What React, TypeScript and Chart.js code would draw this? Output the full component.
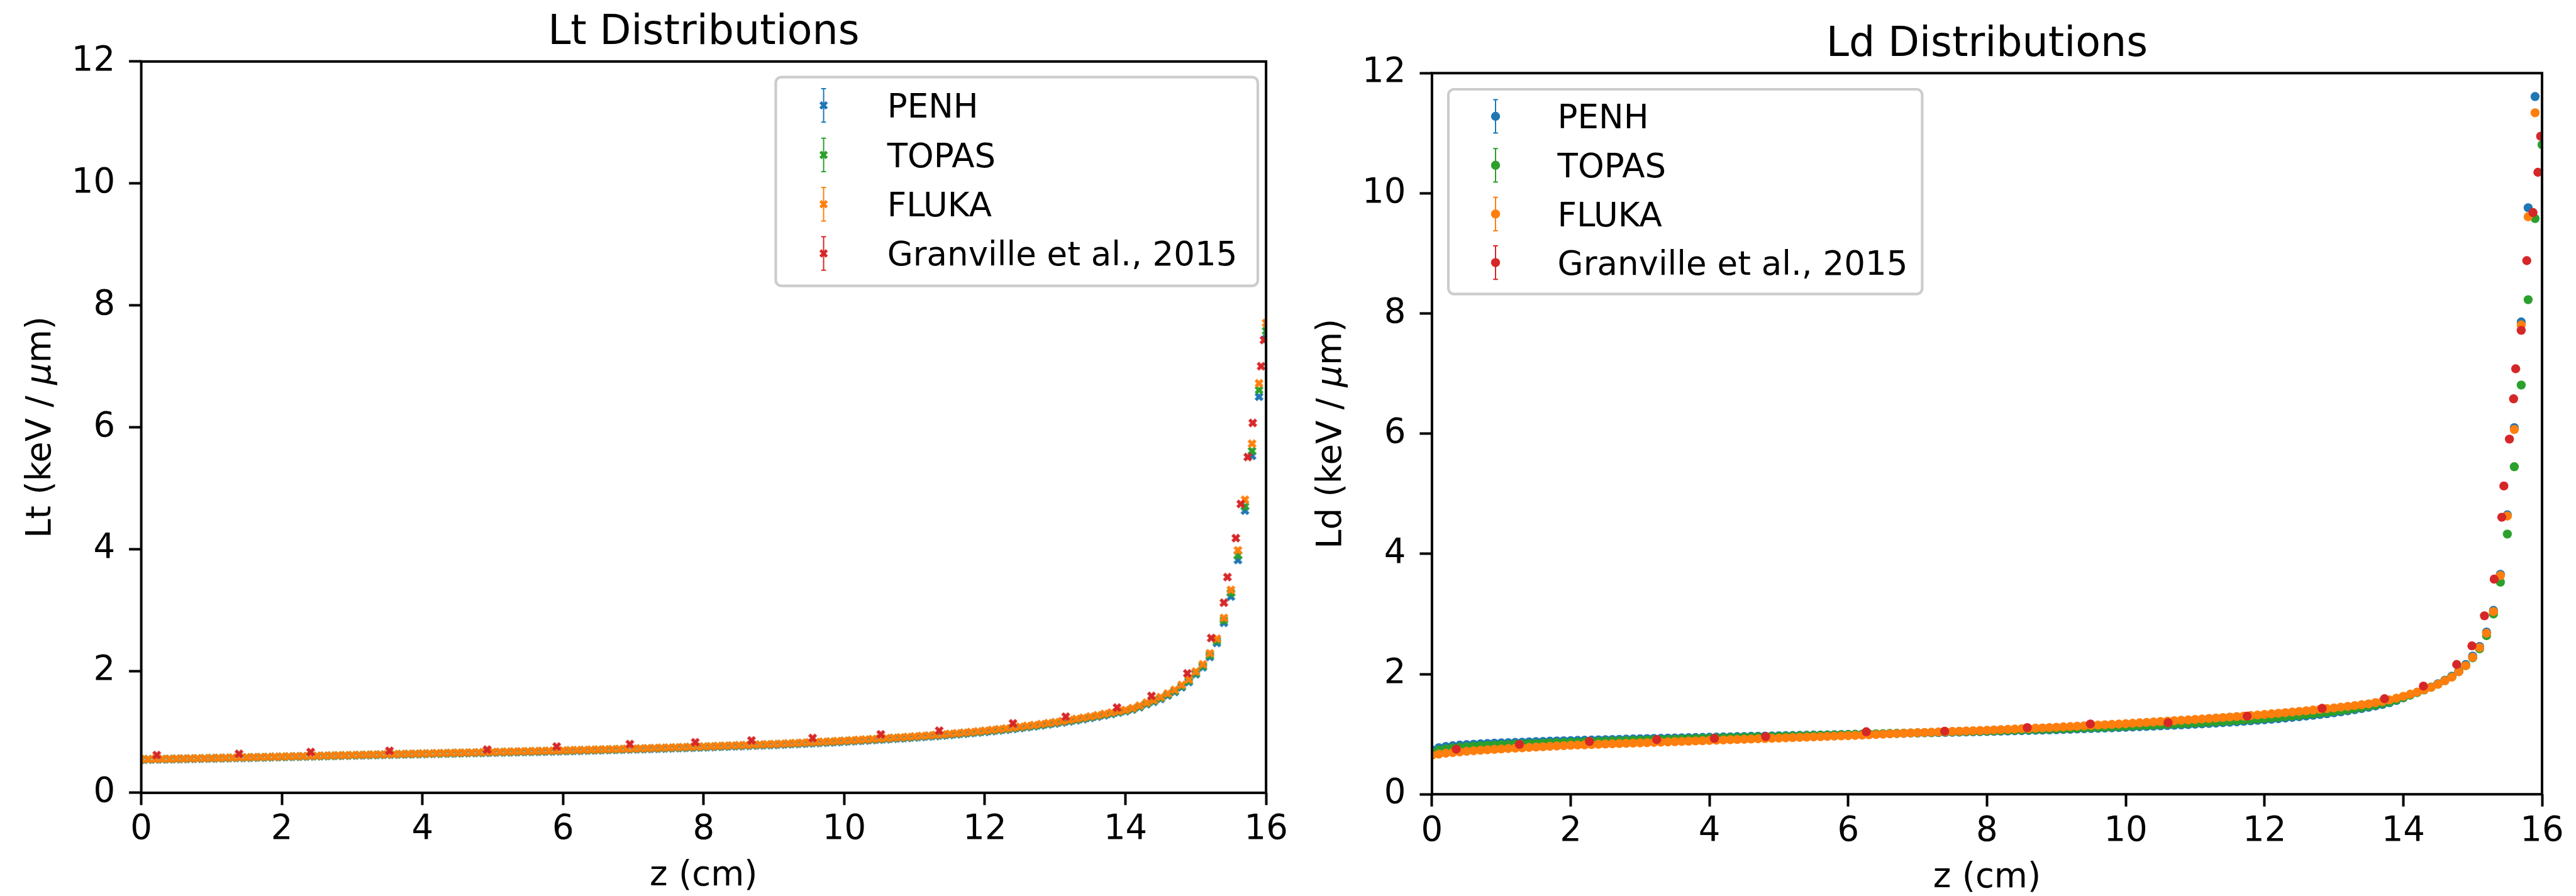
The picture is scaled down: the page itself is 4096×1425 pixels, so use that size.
import React, { useEffect, useRef } from 'react';
import { Chart, registerables } from 'chart.js';

Chart.register(...registerables);

// ---------------- data ----------------
const zGrid = [
  0, 0.1, 0.2, 0.3, 0.4, 0.5, 0.6, 0.7, 0.8, 0.9, 1.0,
  1.1, 1.2, 1.3, 1.4, 1.5, 1.6, 1.7, 1.8, 1.9, 2.0,
  2.1, 2.2, 2.3, 2.4, 2.5, 2.6, 2.7, 2.8, 2.9, 3.0,
  3.1, 3.2, 3.3, 3.4, 3.5, 3.6, 3.7, 3.8, 3.9, 4.0,
  4.1, 4.2, 4.3, 4.4, 4.5, 4.6, 4.7, 4.8, 4.9, 5.0,
  5.1, 5.2, 5.3, 5.4, 5.5, 5.6, 5.7, 5.8, 5.9, 6.0,
  6.1, 6.2, 6.3, 6.4, 6.5, 6.6, 6.7, 6.8, 6.9, 7.0,
  7.1, 7.2, 7.3, 7.4, 7.5, 7.6, 7.7, 7.8, 7.9, 8.0,
  8.1, 8.2, 8.3, 8.4, 8.5, 8.6, 8.7, 8.8, 8.9, 9.0,
  9.1, 9.2, 9.3, 9.4, 9.5, 9.6, 9.7, 9.8, 9.9, 10.0,
  10.1, 10.2, 10.3, 10.4, 10.5, 10.6, 10.7, 10.8, 10.9, 11.0,
  11.1, 11.2, 11.3, 11.4, 11.5, 11.6, 11.7, 11.8, 11.9, 12.0,
  12.1, 12.2, 12.3, 12.4, 12.5, 12.6, 12.7, 12.8, 12.9, 13.0,
  13.1, 13.2, 13.3, 13.4, 13.5, 13.6, 13.7, 13.8, 13.9, 14.0,
  14.1, 14.2, 14.3, 14.4, 14.5, 14.6, 14.7, 14.8, 14.9, 15.0,
  15.1, 15.2, 15.3, 15.4, 15.5, 15.6, 15.7, 15.8, 15.9, 16.0,
];

const ltPENH = [
  0.542, 0.544, 0.546, 0.548, 0.550, 0.552, 0.554, 0.556, 0.558, 0.560, 0.562,
  0.564, 0.566, 0.569, 0.571, 0.574, 0.576, 0.579, 0.581, 0.584, 0.586,
  0.589, 0.591, 0.594, 0.596, 0.599, 0.601, 0.604, 0.606, 0.609, 0.611,
  0.614, 0.616, 0.619, 0.621, 0.624, 0.626, 0.629, 0.631, 0.634, 0.636,
  0.638, 0.641, 0.643, 0.645, 0.647, 0.650, 0.652, 0.654, 0.656, 0.659,
  0.661, 0.663, 0.665, 0.668, 0.670, 0.672, 0.674, 0.677, 0.679, 0.682,
  0.685, 0.688, 0.691, 0.694, 0.697, 0.700, 0.703, 0.706, 0.709, 0.712,
  0.715, 0.718, 0.721, 0.724, 0.728, 0.731, 0.734, 0.738, 0.741, 0.745,
  0.749, 0.753, 0.757, 0.761, 0.765, 0.769, 0.773, 0.777, 0.781, 0.785,
  0.790, 0.795, 0.800, 0.805, 0.810, 0.815, 0.821, 0.826, 0.832, 0.838,
  0.844, 0.851, 0.857, 0.864, 0.871, 0.878, 0.885, 0.892, 0.899, 0.907,
  0.915, 0.923, 0.931, 0.940, 0.949, 0.958, 0.968, 0.978, 0.988, 0.999,
  1.011, 1.023, 1.035, 1.048, 1.062, 1.076, 1.090, 1.105, 1.121, 1.137,
  1.154, 1.171, 1.189, 1.208, 1.228, 1.249, 1.271, 1.293, 1.316, 1.338,
  1.367, 1.405, 1.453, 1.493, 1.540, 1.597, 1.655, 1.732, 1.818, 1.945,
  2.060, 2.230, 2.460, 2.790, 3.220, 3.820, 4.630, 5.530, 6.500, 7.450,
];

const ltTOPAS = [
  0.548, 0.551, 0.553, 0.555, 0.557, 0.559, 0.561, 0.563, 0.565, 0.567, 0.569,
  0.571, 0.573, 0.576, 0.578, 0.580, 0.583, 0.585, 0.587, 0.590, 0.592,
  0.594, 0.597, 0.599, 0.602, 0.604, 0.607, 0.609, 0.612, 0.614, 0.617,
  0.619, 0.622, 0.624, 0.627, 0.629, 0.632, 0.634, 0.637, 0.639, 0.642,
  0.644, 0.646, 0.649, 0.651, 0.654, 0.656, 0.659, 0.661, 0.664, 0.666,
  0.669, 0.671, 0.674, 0.676, 0.679, 0.681, 0.684, 0.686, 0.689, 0.691,
  0.694, 0.697, 0.700, 0.703, 0.706, 0.709, 0.712, 0.715, 0.718, 0.721,
  0.724, 0.728, 0.731, 0.735, 0.738, 0.742, 0.745, 0.749, 0.753, 0.757,
  0.761, 0.765, 0.769, 0.773, 0.777, 0.781, 0.785, 0.789, 0.793, 0.797,
  0.802, 0.807, 0.812, 0.817, 0.823, 0.828, 0.833, 0.839, 0.845, 0.851,
  0.857, 0.864, 0.870, 0.877, 0.884, 0.891, 0.898, 0.905, 0.912, 0.920,
  0.928, 0.936, 0.944, 0.953, 0.962, 0.971, 0.981, 0.991, 1.001, 1.012,
  1.024, 1.036, 1.048, 1.061, 1.075, 1.089, 1.104, 1.119, 1.135, 1.151,
  1.168, 1.185, 1.203, 1.222, 1.242, 1.263, 1.285, 1.307, 1.330, 1.350,
  1.379, 1.418, 1.467, 1.507, 1.555, 1.614, 1.672, 1.750, 1.838, 1.966,
  2.084, 2.259, 2.495, 2.830, 3.280, 3.900, 4.700, 5.610, 6.610, 7.580,
];

const ltFLUKA = [
  0.550, 0.552, 0.554, 0.556, 0.558, 0.560, 0.562, 0.564, 0.566, 0.568, 0.570,
  0.572, 0.575, 0.577, 0.580, 0.582, 0.585, 0.587, 0.590, 0.592, 0.595,
  0.597, 0.600, 0.602, 0.605, 0.607, 0.610, 0.612, 0.615, 0.617, 0.620,
  0.622, 0.625, 0.627, 0.630, 0.632, 0.635, 0.637, 0.640, 0.642, 0.645,
  0.647, 0.650, 0.652, 0.655, 0.657, 0.660, 0.662, 0.665, 0.667, 0.670,
  0.672, 0.675, 0.677, 0.680, 0.682, 0.685, 0.687, 0.690, 0.692, 0.695,
  0.698, 0.701, 0.704, 0.707, 0.710, 0.713, 0.716, 0.719, 0.722, 0.725,
  0.728, 0.732, 0.735, 0.739, 0.742, 0.746, 0.749, 0.753, 0.756, 0.760,
  0.764, 0.768, 0.772, 0.776, 0.780, 0.784, 0.788, 0.792, 0.796, 0.800,
  0.805, 0.810, 0.816, 0.821, 0.827, 0.832, 0.838, 0.843, 0.849, 0.855,
  0.861, 0.868, 0.875, 0.882, 0.889, 0.896, 0.903, 0.910, 0.917, 0.925,
  0.933, 0.941, 0.950, 0.959, 0.968, 0.977, 0.987, 0.997, 1.008, 1.020,
  1.032, 1.044, 1.057, 1.070, 1.084, 1.098, 1.113, 1.128, 1.144, 1.160,
  1.177, 1.195, 1.213, 1.232, 1.252, 1.273, 1.295, 1.318, 1.340, 1.360,
  1.390, 1.430, 1.480, 1.520, 1.570, 1.630, 1.690, 1.770, 1.860, 1.990,
  2.110, 2.290, 2.530, 2.870, 3.330, 3.980, 4.810, 5.730, 6.720, 7.710,
];

const ltGranvilleZ = [
  0.22, 1.39, 2.41, 3.53, 4.92, 5.91, 6.95, 7.88, 8.68, 9.55, 10.52, 11.35, 12.40,
  13.15, 13.88, 14.37, 14.88, 15.22, 15.40, 15.45, 15.57, 15.64, 15.74, 15.81, 15.93, 15.97,
];
const ltGranville = [
  0.62, 0.64, 0.67, 0.69, 0.71, 0.76, 0.80, 0.83, 0.86, 0.90, 0.96, 1.02, 1.14,
  1.25, 1.40, 1.59, 1.96, 2.54, 3.12, 3.54, 4.18, 4.74, 5.51, 6.07, 7.00, 7.43,
];

const ldPENH = [
  0.740, 0.775, 0.795, 0.808, 0.818, 0.826, 0.833, 0.839, 0.845, 0.850, 0.855,
  0.859, 0.863, 0.867, 0.871, 0.875, 0.879, 0.883, 0.887, 0.890, 0.893,
  0.896, 0.899, 0.902, 0.905, 0.908, 0.911, 0.914, 0.917, 0.920, 0.923,
  0.926, 0.929, 0.931, 0.934, 0.936, 0.939, 0.941, 0.944, 0.946, 0.949,
  0.951, 0.954, 0.956, 0.959, 0.961, 0.964, 0.966, 0.969, 0.971, 0.974,
  0.976, 0.978, 0.980, 0.983, 0.985, 0.987, 0.989, 0.992, 0.994, 0.996,
  0.998, 1.000, 1.003, 1.005, 1.007, 1.010, 1.012, 1.014, 1.017, 1.019,
  1.022, 1.024, 1.027, 1.029, 1.032, 1.034, 1.037, 1.039, 1.042, 1.044,
  1.047, 1.050, 1.053, 1.056, 1.059, 1.062, 1.065, 1.068, 1.071, 1.074,
  1.078, 1.082, 1.086, 1.090, 1.094, 1.098, 1.102, 1.106, 1.110, 1.114,
  1.119, 1.124, 1.129, 1.134, 1.139, 1.144, 1.149, 1.154, 1.160, 1.166,
  1.172, 1.178, 1.185, 1.192, 1.199, 1.206, 1.214, 1.222, 1.230, 1.239,
  1.248, 1.258, 1.268, 1.279, 1.290, 1.302, 1.314, 1.327, 1.341, 1.356,
  1.372, 1.389, 1.407, 1.426, 1.447, 1.470, 1.495, 1.523, 1.560, 1.605,
  1.650, 1.695, 1.740, 1.785, 1.840, 1.900, 1.965, 2.055, 2.160, 2.300,
  2.460, 2.700, 3.060, 3.660, 4.650, 6.100, 7.860, 9.760, 11.610, 13.100,
];

const ldTOPAS = [
  0.700, 0.735, 0.757, 0.772, 0.783, 0.792, 0.800, 0.807, 0.813, 0.819, 0.824,
  0.829, 0.834, 0.838, 0.842, 0.846, 0.850, 0.854, 0.858, 0.862, 0.866,
  0.869, 0.873, 0.876, 0.880, 0.883, 0.887, 0.890, 0.894, 0.897, 0.901,
  0.904, 0.907, 0.911, 0.914, 0.917, 0.920, 0.924, 0.927, 0.930, 0.933,
  0.936, 0.939, 0.942, 0.945, 0.948, 0.951, 0.954, 0.957, 0.960, 0.963,
  0.966, 0.969, 0.972, 0.975, 0.978, 0.981, 0.984, 0.987, 0.990, 0.993,
  0.996, 0.999, 1.002, 1.005, 1.008, 1.011, 1.014, 1.017, 1.020, 1.023,
  1.026, 1.029, 1.032, 1.035, 1.038, 1.041, 1.044, 1.047, 1.050, 1.053,
  1.057, 1.060, 1.064, 1.067, 1.071, 1.074, 1.078, 1.081, 1.085, 1.088,
  1.092, 1.096, 1.100, 1.104, 1.108, 1.112, 1.116, 1.121, 1.125, 1.130,
  1.135, 1.140, 1.145, 1.150, 1.156, 1.161, 1.167, 1.173, 1.179, 1.185,
  1.191, 1.198, 1.205, 1.212, 1.219, 1.227, 1.235, 1.243, 1.252, 1.261,
  1.270, 1.280, 1.290, 1.301, 1.312, 1.324, 1.336, 1.349, 1.363, 1.378,
  1.393, 1.409, 1.426, 1.444, 1.464, 1.486, 1.510, 1.537, 1.570, 1.610,
  1.650, 1.692, 1.735, 1.780, 1.832, 1.890, 1.955, 2.040, 2.140, 2.270,
  2.420, 2.640, 3.000, 3.530, 4.330, 5.450, 6.810, 8.230, 9.580, 10.810,
];

const ldFLUKA = [
  0.650, 0.668, 0.682, 0.694, 0.705, 0.715, 0.724, 0.732, 0.740, 0.747, 0.754,
  0.761, 0.767, 0.773, 0.779, 0.785, 0.791, 0.797, 0.803, 0.809, 0.815,
  0.819, 0.823, 0.827, 0.831, 0.835, 0.839, 0.843, 0.847, 0.851, 0.855,
  0.859, 0.863, 0.867, 0.871, 0.875, 0.879, 0.883, 0.887, 0.891, 0.895,
  0.899, 0.903, 0.907, 0.911, 0.915, 0.919, 0.923, 0.927, 0.931, 0.935,
  0.939, 0.943, 0.947, 0.951, 0.955, 0.959, 0.963, 0.967, 0.971, 0.975,
  0.980, 0.985, 0.990, 0.995, 1.000, 1.005, 1.010, 1.015, 1.020, 1.025,
  1.029, 1.033, 1.037, 1.041, 1.045, 1.049, 1.053, 1.057, 1.061, 1.065,
  1.070, 1.075, 1.080, 1.085, 1.090, 1.095, 1.100, 1.105, 1.110, 1.115,
  1.121, 1.127, 1.133, 1.139, 1.145, 1.151, 1.157, 1.163, 1.169, 1.175,
  1.182, 1.189, 1.196, 1.203, 1.210, 1.217, 1.224, 1.231, 1.238, 1.245,
  1.253, 1.261, 1.269, 1.277, 1.285, 1.293, 1.301, 1.310, 1.319, 1.328,
  1.338, 1.348, 1.358, 1.368, 1.379, 1.390, 1.401, 1.413, 1.425, 1.437,
  1.450, 1.463, 1.476, 1.490, 1.505, 1.525, 1.545, 1.570, 1.598, 1.630,
  1.665, 1.700, 1.740, 1.780, 1.830, 1.890, 1.950, 2.040, 2.140, 2.280,
  2.440, 2.680, 3.040, 3.640, 4.630, 6.070, 7.810, 9.610, 11.340, 12.900,
];

const ldGranvilleZ = [
  0.35, 1.26, 2.27, 3.24, 4.07, 4.81, 6.26, 7.39, 8.58, 9.49, 10.61, 11.75, 12.83,
  13.73, 14.29, 14.77, 14.99, 15.17, 15.31, 15.42, 15.45, 15.53, 15.59, 15.62, 15.70,
  15.78, 15.87, 15.94, 15.98,
];
const ldGranville = [
  0.75, 0.83, 0.88, 0.91, 0.93, 0.96, 1.04, 1.05, 1.11, 1.17, 1.19, 1.30, 1.43,
  1.59, 1.80, 2.16, 2.47, 2.97, 3.58, 4.61, 5.13, 5.91, 6.58, 7.08, 7.72,
  8.88, 9.68, 10.35, 10.95,
];

const seriesLabels = ['PENH', 'TOPAS', 'FLUKA', 'Granville et al., 2015'];
const xTicks = [0, 2, 4, 6, 8, 10, 12, 14, 16];
const yTicks = [0, 2, 4, 6, 8, 10, 12];

// ---------------- styles ----------------
const FONT = 'DejaVu Sans';
const COLORS = ['#1f77b4', '#2ca02c', '#ff7f0e', '#d62728'];
const WIN_H = 1425;
const LABEL_SIZE = 54.5;

type Spec = {
  title: string;
  yLabelParts: [string, string, string];
  marker: 'x' | 'o';
  sims: number[][];
  granZ: number[];
  granV: number[];
  canvasLeft: number;
  width: number;
  area: { left: number; top: number; right: number; bottom: number };
  yLabelBaseline: number;
  xTickPad: number;
  xTitlePad: number;
  titleBaseline: number;
  legend: { x: number; y: number; w: number; h: number; mx: number; tx: number; rows: number[] };
};

const LEFT: Spec = {
  title: 'Lt Distributions',
  yLabelParts: ['Lt (keV / ', 'μ', 'm)'],
  marker: 'x',
  sims: [ltPENH, ltTOPAS, ltFLUKA],
  granZ: ltGranvilleZ,
  granV: ltGranville,
  canvasLeft: 0,
  width: 2060,
  area: { left: 224.6, top: 97.8, right: 2013.8, bottom: 1260.9 },
  yLabelBaseline: 80,
  xTickPad: 12.2,
  xTitlePad: 4.2,
  titleBaseline: 70,
  legend: { x: 1233.5, y: 122.7, w: 766.5, h: 332, mx: 1309.6, tx: 1410.7, rows: [167.6, 246.4, 324.8, 403.1] },
};

const RIGHT: Spec = {
  title: 'Ld Distributions',
  yLabelParts: ['Ld (keV / ', 'μ', 'm)'],
  marker: 'o',
  sims: [ldPENH, ldTOPAS, ldFLUKA],
  granZ: ldGranvilleZ,
  granV: ldGranville,
  canvasLeft: 2060,
  width: 2036,
  area: { left: 216.9, top: 116.3, right: 1982, bottom: 1263.2 },
  yLabelBaseline: 72.4,
  xTickPad: 12.5,
  xTitlePad: 1.2,
  titleBaseline: 88.5,
  legend: { x: 243, y: 142, w: 753.4, h: 325.6, mx: 318, tx: 416.6, rows: [185, 262.8, 340.3, 417.6] },
};

const X_VERTS: [number, number][] = [
  [-1, -2], [0, -1], [1, -2], [2, -1], [1, 0], [2, 1],
  [1, 2], [0, 1], [-1, 2], [-2, 1], [-1, 0], [-2, -1],
];
const X_SIZE = 13.5;
const CIRCLE_R = 7.2;

function pathX(ctx: CanvasRenderingContext2D, cx: number, cy: number, size: number) {
  ctx.beginPath();
  X_VERTS.forEach(([a, b], i) => {
    const px = cx + (a / 4) * size;
    const py = cy + (b / 4) * size;
    if (i === 0) ctx.moveTo(px, py);
    else ctx.lineTo(px, py);
  });
  ctx.closePath();
}

function makeXImage(color: string, size: number) {
  const c = document.createElement('canvas');
  const s = Math.ceil(size) + 4;
  c.width = s;
  c.height = s;
  const ctx = c.getContext('2d')!;
  pathX(ctx, s / 2, s / 2, size);
  ctx.fillStyle = color;
  ctx.fill();
  ctx.strokeStyle = color;
  ctx.lineWidth = 0.8;
  ctx.stroke();
  return c;
}

function roundRectPath(ctx: CanvasRenderingContext2D, x: number, y: number, w: number, h: number, r: number) {
  ctx.beginPath();
  ctx.moveTo(x + r, y);
  ctx.lineTo(x + w - r, y);
  ctx.arcTo(x + w, y, x + w, y + r, r);
  ctx.lineTo(x + w, y + h - r);
  ctx.arcTo(x + w, y + h, x + w - r, y + h, r);
  ctx.lineTo(x + r, y + h);
  ctx.arcTo(x, y + h, x, y + h - r, r);
  ctx.lineTo(x, y + r);
  ctx.arcTo(x, y, x + r, y, r);
  ctx.closePath();
}

const decorPlugin = {
  id: 'decor',
  afterDraw(chart: any, _args: any, opts: any) {
    const spec: Spec = opts.spec;
    const { ctx, chartArea: a } = chart;
    ctx.save();
    // frame (spines)
    ctx.strokeStyle = '#000';
    ctx.lineWidth = 4;
    ctx.strokeRect(a.left, a.top, a.right - a.left, a.bottom - a.top);
    // title
    ctx.fillStyle = '#000';
    ctx.font = `65px "${FONT}"`;
    ctx.textAlign = 'center';
    ctx.textBaseline = 'alphabetic';
    ctx.fillText(spec.title, (a.left + a.right) / 2, spec.titleBaseline);

    // y-axis label with italic mu (rotated)
    const normal = `${LABEL_SIZE}px "${FONT}"`;
    const italic = `italic ${LABEL_SIZE}px "${FONT}"`;
    const fonts = [normal, italic, normal];
    const widths = spec.yLabelParts.map((t, i) => {
      ctx.font = fonts[i];
      return ctx.measureText(t).width;
    });
    const total = widths.reduce((s, w) => s + w, 0);
    ctx.save();
    ctx.translate(spec.yLabelBaseline, (a.top + a.bottom) / 2);
    ctx.rotate(-Math.PI / 2);
    ctx.textAlign = 'left';
    ctx.textBaseline = 'alphabetic';
    let u = -total / 2;
    spec.yLabelParts.forEach((t, i) => {
      ctx.font = fonts[i];
      ctx.fillText(t, u, 0);
      u += widths[i];
    });
    ctx.restore();

    // legend
    const L = spec.legend;
    roundRectPath(ctx, L.x, L.y, L.w, L.h, 9);
    ctx.fillStyle = 'rgba(255,255,255,0.8)';
    ctx.fill();
    ctx.strokeStyle = '#cccccc';
    ctx.lineWidth = 4.2;
    ctx.stroke();
    seriesLabels.forEach((label, i) => {
      const y = L.rows[i];
      const color = COLORS[i];
      const half = 26.6;
      const cap = 3.8;
      ctx.strokeStyle = color;
      ctx.lineWidth = 2;
      ctx.beginPath();
      ctx.moveTo(L.mx, y - half);
      ctx.lineTo(L.mx, y + half);
      ctx.moveTo(L.mx - cap, y - half);
      ctx.lineTo(L.mx + cap, y - half);
      ctx.moveTo(L.mx - cap, y + half);
      ctx.lineTo(L.mx + cap, y + half);
      ctx.stroke();
      ctx.fillStyle = color;
      if (spec.marker === 'x') {
        pathX(ctx, L.mx, y, X_SIZE);
        ctx.fill();
      } else {
        ctx.beginPath();
        ctx.arc(L.mx, y, CIRCLE_R, 0, Math.PI * 2);
        ctx.fill();
      }
      ctx.fillStyle = '#000';
      ctx.font = `53px "${FONT}"`;
      ctx.textAlign = 'left';
      ctx.textBaseline = 'alphabetic';
      ctx.fillText(label, L.tx, y + 19.3);
    });
    ctx.restore();
  },
};

function buildConfig(spec: Spec): any {
  const orders = [4, 3, 2];
  const datasets: any[] = spec.sims.map((vals, i) => ({
    label: seriesLabels[i],
    data: zGrid.map((z, k) => ({ x: z, y: vals[k] })),
    pointStyle: spec.marker === 'x' ? makeXImage(COLORS[i], X_SIZE) : 'circle',
    pointRadius: spec.marker === 'x' ? 7 : CIRCLE_R,
    pointBorderWidth: 0,
    backgroundColor: COLORS[i],
    borderColor: COLORS[i],
    showLine: false,
    clip: 0,
    order: orders[i],
  }));
  datasets.push({
    label: seriesLabels[3],
    data: spec.granZ.map((z, k) => ({ x: z, y: spec.granV[k] })),
    pointStyle: spec.marker === 'x' ? makeXImage(COLORS[3], X_SIZE) : 'circle',
    pointRadius: spec.marker === 'x' ? 7 : CIRCLE_R,
    pointBorderWidth: 0,
    backgroundColor: COLORS[3],
    borderColor: COLORS[3],
    showLine: false,
    clip: 0,
    order: 1,
  });

  const tickFont = { family: FONT, size: LABEL_SIZE, lineHeight: 1 };
  const gridCommon = {
    display: true,
    drawOnChartArea: false,
    drawTicks: true,
    tickLength: 19.5,
    tickWidth: 4,
    tickColor: '#000',
  };

  return {
    type: 'scatter',
    data: { datasets },
    plugins: [decorPlugin],
    options: {
      responsive: false,
      maintainAspectRatio: false,
      animation: false,
      devicePixelRatio: 1,
      events: [],
      layout: {
        autoPadding: false,
        padding: { left: 0, top: spec.area.top, right: spec.width - spec.area.right, bottom: 0 },
      },
      plugins: {
        legend: { display: false },
        title: { display: false },
        tooltip: { enabled: false },
        decor: { spec },
      },
      scales: {
        x: {
          type: 'linear',
          position: 'bottom',
          min: 0,
          max: 16,
          afterBuildTicks: (s: any) => {
            s.ticks = xTicks.map((v) => ({ value: v }));
          },
          afterFit: (s: any) => {
            s.height = WIN_H - spec.area.bottom;
          },
          ticks: {
            font: tickFont,
            color: '#000',
            padding: spec.xTickPad,
            maxRotation: 0,
            autoSkip: false,
            callback: (v: any) => String(v),
          },
          grid: gridCommon,
          border: { display: false },
          title: {
            display: true,
            text: 'z (cm)',
            font: tickFont,
            color: '#000',
            padding: { top: 0, bottom: spec.xTitlePad },
          },
        },
        y: {
          type: 'linear',
          position: 'left',
          min: 0,
          max: 12,
          afterBuildTicks: (s: any) => {
            s.ticks = yTicks.map((v) => ({ value: v }));
          },
          afterFit: (s: any) => {
            s.width = spec.area.left;
          },
          ticks: {
            font: tickFont,
            color: '#000',
            padding: 22,
            autoSkip: false,
            callback: (v: any) => String(v),
          },
          grid: gridCommon,
          border: { display: false },
          title: { display: false },
        },
      },
    },
  };
}

export default function App() {
  const leftRef = useRef<HTMLCanvasElement>(null);
  const rightRef = useRef<HTMLCanvasElement>(null);

  useEffect(() => {
    const c1 = new Chart(leftRef.current as HTMLCanvasElement, buildConfig(LEFT));
    const c2 = new Chart(rightRef.current as HTMLCanvasElement, buildConfig(RIGHT));
    return () => {
      c1.destroy();
      c2.destroy();
    };
  }, []);

  return (
    <div>
      <canvas
        ref={leftRef}
        width={LEFT.width}
        height={WIN_H}
        style={{ position: 'fixed', left: LEFT.canvasLeft, top: 0, width: LEFT.width, height: WIN_H }}
      />
      <canvas
        ref={rightRef}
        width={RIGHT.width}
        height={WIN_H}
        style={{ position: 'fixed', left: RIGHT.canvasLeft, top: 0, width: RIGHT.width, height: WIN_H }}
      />
    </div>
  );
}
